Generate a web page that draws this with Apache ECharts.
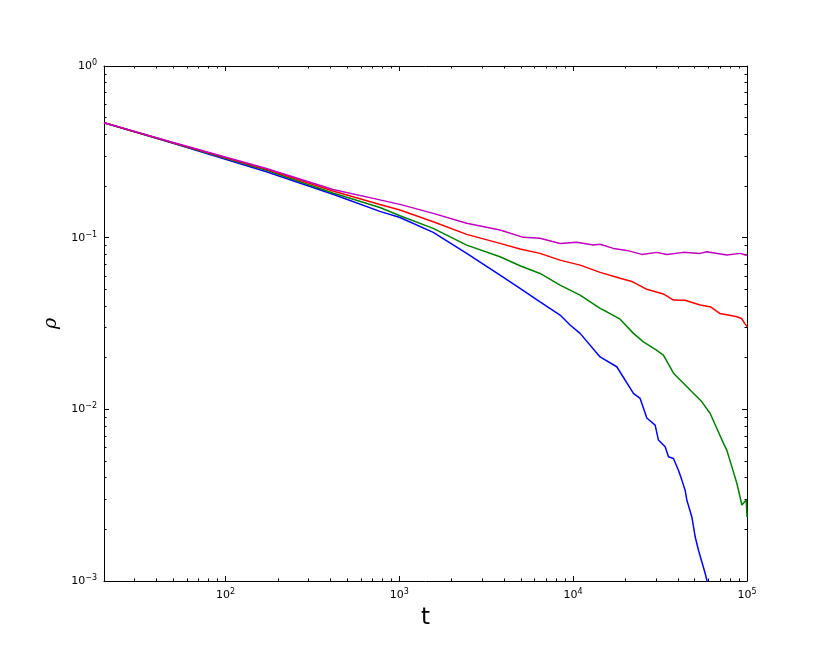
<!DOCTYPE html>
<html>
<head>
<meta charset="utf-8">
<script src="https://cdn.jsdelivr.net/npm/echarts@6/dist/echarts.min.js"></script>
<style>
  html, body { margin: 0; padding: 0; background: #fff; }
  #chart { width: 830px; height: 664px; }
</style>
</head>
<body>
<div id="chart"></div>
<script>
// density rho(t) for four runs
var tBlue   = [20, 50, 172, 415, 773, 1008, 1567, 2441, 3795, 4947, 6448, 8407, 9598, 10957, 14290, 17820, 22220, 24280, 26530, 29620, 30940, 33820, 35330, 37750, 40340, 42190, 44080, 45080, 48170, 50330, 52590, 55010, 57450, 58750, 60000];
var rhoBlue = [0.467, 0.355, 0.242, 0.179, 0.1423, 0.131, 0.1074, 0.0810, 0.0605, 0.0507, 0.0423, 0.0354, 0.0310, 0.0277, 0.0202, 0.0177, 0.01238, 0.01158, 0.0089, 0.00809, 0.00662, 0.00605, 0.00529, 0.00517, 0.00442, 0.00387, 0.00338, 0.00296, 0.00236, 0.00181, 0.00151, 0.00129, 0.00111, 0.00101, 0.0009];

var tGreen   = [20, 50, 172, 415, 773, 1008, 1567, 2441, 3795, 4947, 6448, 8407, 10957, 14290, 15610, 18620, 22220, 25360, 30000, 33040, 38000, 43100, 48170, 55010, 61400, 67100, 73230, 76560, 81880, 87480, 93460, 98950, 100000];
var rhoGreen = [0.467, 0.356, 0.247, 0.182, 0.150, 0.1341, 0.1133, 0.0905, 0.0774, 0.0686, 0.0619, 0.0529, 0.0463, 0.0387, 0.0370, 0.0335, 0.0277, 0.0247, 0.0222, 0.0207, 0.0161, 0.0142, 0.01265, 0.01106, 0.00946, 0.00774, 0.00633, 0.00578, 0.00462, 0.0037, 0.00277, 0.00296, 0.00236];

var tRed   = [20, 50, 172, 415, 773, 1008, 1567, 2441, 3795, 4947, 6448, 8407, 10957, 14290, 18620, 22000, 26530, 33000, 37760, 44000, 53790, 62000, 69640, 78000, 87490, 93000, 97000, 100000];
var rhoRed = [0.467, 0.357, 0.250, 0.187, 0.156, 0.1448, 0.1238, 0.1045, 0.0926, 0.0858, 0.0810, 0.0740, 0.0692, 0.0628, 0.058, 0.0553, 0.050, 0.047, 0.0433, 0.0432, 0.0405, 0.0394, 0.0362, 0.0354, 0.0346, 0.0338, 0.0317, 0.0303];

var tMag   = [20, 50, 172, 415, 773, 1008, 1567, 2441, 3795, 5168, 6448, 8407, 10490, 13070, 14290, 17030, 20350, 24830, 30290, 34600, 43100, 53790, 58750, 76560, 91400, 98000, 100000];
var rhoMag = [0.467, 0.358, 0.253, 0.191, 0.166, 0.1563, 0.1385, 0.1212, 0.1107, 0.1004, 0.0991, 0.0926, 0.0939, 0.0905, 0.0916, 0.0866, 0.0843, 0.0799, 0.0821, 0.0799, 0.0821, 0.0810, 0.0828, 0.0792, 0.0810, 0.0792, 0.0792];

var xMajor = [100, 1000, 10000, 100000];
var xMinor = [30, 40, 50, 60, 70, 80, 90, 200, 300, 400, 500, 600, 700, 800, 900,
              2000, 3000, 4000, 5000, 6000, 7000, 8000, 9000,
              20000, 30000, 40000, 50000, 60000, 70000, 80000, 90000];
var yMajor = [0.001, 0.01, 0.1, 1];
var yMinor = [0.002, 0.003, 0.004, 0.005, 0.006, 0.007, 0.008, 0.009,
              0.02, 0.03, 0.04, 0.05, 0.06, 0.07, 0.08, 0.09,
              0.2, 0.3, 0.4, 0.5, 0.6, 0.7, 0.8, 0.9];

function pairs(xs, ys) {
    return xs.map(function (x, i) { return [x, ys[i]] })
}

var font = 'DejaVu Sans'
var powLabel = {
    fontFamily: font,
    color: '#000',
    formatter: function (v) {
        var e = Math.round(Math.log10(v))
        return '{b|10}{s|' + (e < 0 ? '\u2212' + (-e) : e) + '}'
    },
    rich: {
        b: {fontFamily: font, fontSize: 11, color: '#000', lineHeight: 14},
        s: {fontFamily: font, fontSize: 8, color: '#000', verticalAlign: 'top', lineHeight: 14, padding: [0, 0, 6, 0]}
    }
}

function xAx(pos, ticks, len, withLabel, withLine) {
    var a = {
        type: 'log', position: pos, min: 20, max: 100000, logBase: 10,
        axisLine: {show: withLine, lineStyle: {color: '#000', width: 1}},
        axisTick: {show: true, inside: true, length: len, customValues: ticks, lineStyle: {color: '#000', width: 1}},
        axisLabel: {show: false},
        splitLine: {show: false}, minorTick: {show: false}
    }
    if (withLabel) {
        a.axisLabel = Object.assign({show: true, margin: 7, customValues: ticks}, powLabel)
        a.name = 't'
        a.nameLocation = 'middle'
        a.nameGap = 18
        a.nameTextStyle = {fontFamily: font, fontSize: 23, color: '#000', verticalAlign: 'top'}
    }
    return a
}

function yAx(pos, ticks, len, withLabel, withLine) {
    var a = {
        type: 'log', position: pos, min: 0.001, max: 1, logBase: 10,
        axisLine: {show: withLine, lineStyle: {color: '#000', width: 1}},
        axisTick: {show: true, inside: true, length: len, customValues: ticks, lineStyle: {color: '#000', width: 1}},
        axisLabel: {show: false},
        splitLine: {show: false}, minorTick: {show: false}
    }
    if (withLabel) {
        a.axisLabel = Object.assign({show: true, margin: 7, customValues: ticks}, powLabel)
        a.name = '\u03c1'
        a.nameLocation = 'middle'
        a.nameGap = 36
        a.nameRotate = 90
        a.nameTextStyle = {fontFamily: 'DejaVu Serif', fontStyle: 'italic', fontSize: 19, color: '#000'}
    }
    return a
}

var chart = echarts.init(document.getElementById('chart'), null, {renderer: 'canvas'})
chart.setOption({
    animation: false,
    backgroundColor: '#fff',
    grid: {left: 104, right: 83, top: 66, bottom: 83, containLabel: false},
    xAxis: [
        xAx('bottom', xMajor, 5, true, true),
        xAx('bottom', xMinor, 2.5, false, false),
        xAx('top', xMajor, 5, false, true),
        xAx('top', xMinor, 2.5, false, false)
    ],
    yAxis: [
        yAx('left', yMajor, 5, true, true),
        yAx('left', yMinor, 2.5, false, false),
        yAx('right', yMajor, 5, false, true),
        yAx('right', yMinor, 2.5, false, false)
    ],
    series: [
        {name: 'blue', type: 'line', data: pairs(tBlue, rhoBlue), color: '#0000ff'},
        {name: 'green', type: 'line', data: pairs(tGreen, rhoGreen), color: '#008000'},
        {name: 'red', type: 'line', data: pairs(tRed, rhoRed), color: '#ff0000'},
        {name: 'magenta', type: 'line', data: pairs(tMag, rhoMag), color: '#bf00bf'}
    ].map(function (s) {
        s.showSymbol = false
        s.symbol = 'none'
        s.clip = true
        s.lineStyle = {width: 1.5}
        return s
    })
})
</script>
</body>
</html>
